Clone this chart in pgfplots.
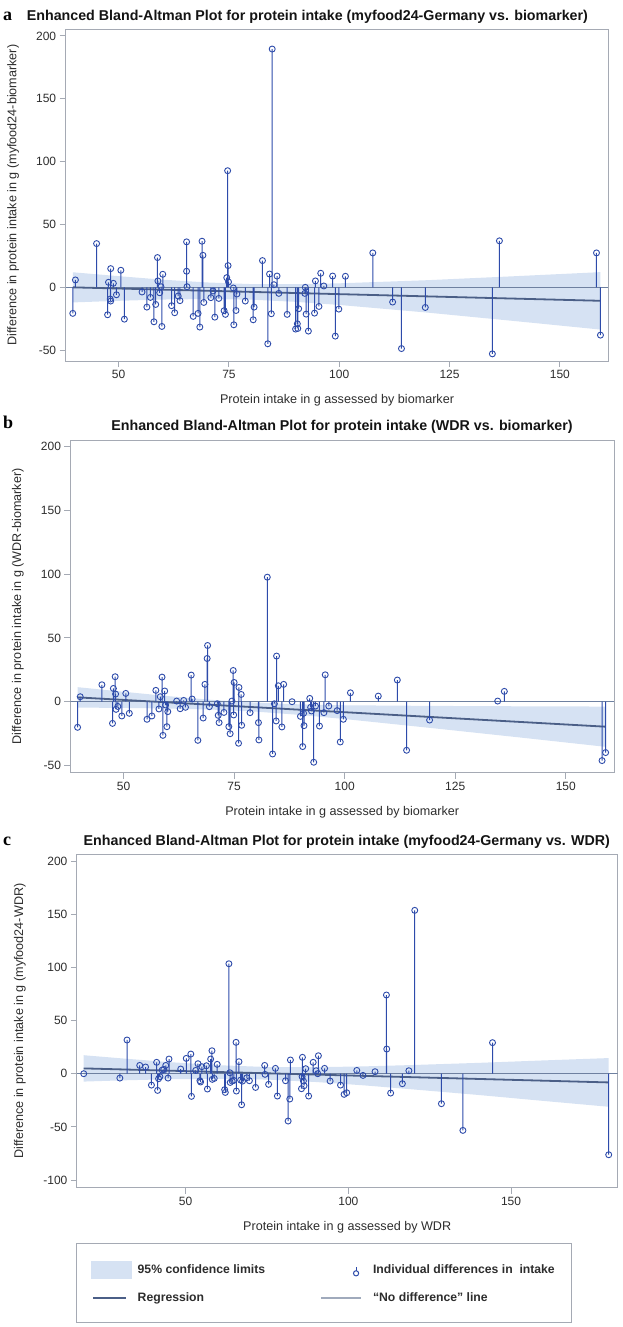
\documentclass[border=0pt]{standalone}
\usepackage{pgfplots}
\pgfplotsset{compat=1.18}
\usepackage{pgfplotstable}
\usepackage{fontspec}
\setmainfont{Liberation Sans}
\newfontfamily\serifb{Liberation Serif}
\definecolor{ptcol}{RGB}{45,75,170}
\definecolor{bandcol}{RGB}{214,226,243}
\definecolor{regcol}{RGB}{75,95,135}
\definecolor{zerocol}{RGB}{110,128,160}
\definecolor{legzero}{RGB}{160,170,188}
\definecolor{framecol}{RGB}{165,170,180}
\definecolor{labcol}{RGB}{45,45,45}
\definecolor{titlecol}{RGB}{20,20,20}

\pgfplotstableread{
x y
39.6 -20.7
40.2 5.9
45.0 34.8
47.5 -21.8
47.7 4.0
48.2 14.9
48.1 -9.3
48.2 -10.9
48.8 3.2
49.5 -5.9
50.5 13.6
51.3 -25.3
55.3 -3.7
56.4 -15.7
57.2 -8.0
58.0 -27.4
58.4 -13.6
58.8 23.7
58.9 5.1
59.3 -4.3
59.6 0.5
59.8 -31.1
60.0 10.4
62.0 -14.6
62.7 -20.2
63.5 -6.9
63.9 -10.6
65.4 36.2
65.4 12.8
65.5 0.5
66.9 -23.1
68.0 -20.7
68.4 -31.6
68.9 36.7
69.1 25.5
69.3 -12.0
70.9 -8.2
71.4 -2.9
71.8 -23.7
72.7 -8.8
73.9 -18.6
74.2 -21.5
74.5 7.7
74.7 92.8
74.8 17.3
74.9 4.3
76.0 -0.5
76.1 -29.8
76.6 -18.4
76.8 -5.3
78.7 -10.9
80.5 -25.8
80.7 -15.7
82.6 21.3
83.8 -44.9
84.2 10.6
84.6 -21.0
84.8 189.6
85.2 2.1
85.9 9.0
86.3 -4.8
88.2 -21.5
90.1 -33.2
90.5 -29.0
90.6 -32.7
90.8 -17.0
92.3 0.0
92.2 -4.8
92.5 -21.3
93.0 -34.8
94.4 -20.5
94.6 5.1
95.4 -15.2
95.8 11.2
96.5 1.1
98.5 9.0
99.1 -38.8
99.9 -17.3
101.4 8.8
107.6 27.4
112.1 -11.7
114.1 -48.7
119.5 -16.0
134.7 -52.9
136.3 37.0
158.3 27.4
159.2 -38.0
}\dataA

\pgfplotstableread{
x y
39.6 -20.1
40.2 3.9
45.1 13.3
47.5 -17.0
47.7 10.4
48.1 19.6
48.2 6.0
48.3 -6.0
48.7 -3.7
49.6 -11.2
50.5 6.5
51.3 -9.1
55.3 -13.8
56.4 -11.2
57.3 8.9
58.0 -5.7
58.3 3.9
58.7 19.3
58.9 -26.4
59.3 8.4
59.5 -2.6
59.8 -19.6
60.0 -7.8
62.0 0.5
62.8 -5.5
63.6 1.0
64.0 -4.4
65.3 20.9
65.5 2.1
66.8 -30.3
68.0 -12.8
68.4 13.6
68.9 33.9
69.0 44.1
69.4 -3.9
71.2 -1.6
71.4 -10.7
71.6 -16.4
72.7 -8.4
73.8 -19.6
74.1 -25.1
74.5 0.5
74.8 24.5
74.9 -10.4
75.0 15.1
76.0 -32.6
76.1 11.2
76.6 5.7
76.7 -18.5
78.6 -8.6
80.5 -16.4
80.6 -30.0
82.5 97.7
83.7 -41.0
84.1 -1.6
84.6 35.8
84.5 -15.1
85.0 12.5
85.8 -19.8
86.2 13.6
88.1 0.0
90.0 -11.5
90.5 -35.2
90.7 -9.1
90.8 -18.8
92.1 2.6
92.3 -4.4
92.5 -7.3
93.0 -47.5
93.4 -3.4
94.3 -19.1
95.3 -8.6
95.6 21.1
96.4 -3.4
98.3 -7.0
99.0 -31.6
99.7 -13.8
101.3 7.0
107.6 4.4
111.9 17.0
114.0 -38.1
119.2 -14.4
134.6 0.5
136.1 8.1
158.2 -46.2
159.0 -39.9
}\dataB

\pgfplotstableread{
x y
18.7 0.0
29.8 -4.1
32.0 31.7
35.9 7.8
37.7 6.3
39.5 -10.7
41.1 10.7
41.4 -15.7
41.7 -4.7
42.1 -2.8
42.8 3.4
43.3 4.1
43.9 7.8
44.6 -4.1
44.9 13.8
48.5 4.4
50.2 14.4
51.6 18.5
51.8 -21.3
53.1 3.1
53.8 9.4
54.4 -6.6
54.6 -7.8
55.0 6.6
56.4 7.5
56.7 -14.4
57.7 13.8
58.1 21.6
58.2 -5.3
58.8 -4.4
59.7 8.8
62.0 -15.0
62.2 -17.6
63.3 103.4
63.6 0.9
63.7 -8.2
64.3 -6.9
64.8 -6.3
65.5 29.5
65.6 -16.3
66.4 11.3
66.9 -6.0
67.2 -29.2
67.5 -6.9
68.8 -3.8
69.6 -6.6
71.5 -12.9
74.3 7.8
74.4 -0.6
75.5 -10.0
77.6 5.0
78.2 -21.0
80.7 -6.6
81.5 -44.5
82.0 -23.8
82.2 12.9
85.6 -14.1
85.8 -2.8
85.9 15.4
86.2 -6.9
86.4 -11.3
86.9 4.7
87.8 -21.0
89.2 10.7
90.1 2.8
90.6 0.0
90.8 16.9
92.7 5.0
94.4 -6.9
97.6 -10.7
98.7 -19.4
99.5 -17.9
102.6 3.1
104.5 -1.6
108.2 1.9
111.7 74.0
111.8 23.2
113.0 -18.2
116.6 -9.4
118.6 2.8
120.4 153.6
128.6 -28.2
135.2 -53.3
144.3 29.2
180.0 -76.2
}\dataC

\pgfplotsset{
  ba/.style={
    scale only axis, anchor=south west,
    axis line style={draw=framecol, line width=1pt},
    major tick style={draw=framecol, line width=1pt},
    tick align=outside, major tick length=6pt,
    xtick pos=lower, ytick pos=left,
    tick label style={font=\fontsize{12}{14}\selectfont, text=labcol},
    label style={font=\fontsize{12.6}{15}\selectfont, text=labcol},
    /pgf/number format/assume math mode=true,
    scaled ticks=false,
  },
  stems/.style={ybar, bar width=1pt, fill=ptcol, draw=none, forget plot},
  pts/.style={only marks, mark=o, mark size=3pt, color=ptcol, mark options={line width=0.9pt}, forget plot},
}

\begin{document}
\begin{tikzpicture}
\path[use as bounding box] (0pt,0pt) rectangle (623pt,-1327pt);

% ---------- titles and panel letters
\node[anchor=base, font=\bfseries\fontsize{14.25}{16}\selectfont, text=titlecol, inner sep=0pt] at (307.4pt,-20.7pt) {Enhanced Bland-Altman Plot for protein intake (myfood24-Germany vs. biomarker)};
\node[anchor=base west, font=\serifb\bfseries\fontsize{18}{20}\selectfont, inner sep=0pt] at (3pt,-20.7pt) {a};
\node[anchor=base, font=\bfseries\fontsize{14.25}{16}\selectfont, text=titlecol, inner sep=0pt] at (342pt,-430pt) {Enhanced Bland-Altman Plot for protein intake (WDR vs. biomarker)};
\node[anchor=base west, font=\serifb\bfseries\fontsize{18}{20}\selectfont, inner sep=0pt] at (3pt,-428pt) {b};
\node[anchor=base, font=\bfseries\fontsize{14.25}{16}\selectfont, text=titlecol, inner sep=0pt] at (346.8pt,-845pt) {Enhanced Bland-Altman Plot for protein intake (myfood24-Germany vs. WDR)};
\node[anchor=base west, font=\serifb\bfseries\fontsize{18}{20}\selectfont, inner sep=0pt] at (3pt,-845pt) {c};

% ---------- panel a
\begin{axis}[ba, at={(65.7pt,-361pt)}, width=542.7pt, height=331.7pt,
  xmin=38, xmax=161, ymin=-58.6, ymax=205.3,
  xtick={50,75,100,125,150}, ytick={-50,0,50,100,150,200},
  xlabel={Protein intake in g assessed by biomarker},
  ylabel={Difference in protein intake in g (myfood24-biomarker)},
  xlabel style={at={(axis description cs:0.5,-0.1275)}, anchor=base},
  ylabel style={at={(axis description cs:-0.0969,0.5)}, anchor=center}]
\addplot[fill=bandcol, draw=none, forget plot] coordinates {(39.6,12.0) (50,8.9) (60,6.1) (70,3.9) (80,2.6) (90,2.5) (100,3.2) (120,5.7) (140,8.9) (159.2,12.1)
 (159.2,-33.6) (140,-26.9) (120,-20.1) (100,-14.0) (90,-11.5) (80,-9.8) (70,-9.3) (60,-9.7) (50,-10.7) (39.6,-12.0)};
\addplot[zerocol, line width=1.3pt, forget plot] coordinates {(38,0) (161,0)};
\addplot[regcol, line width=1.8pt, forget plot] coordinates {(39.6,0) (159.2,-10.7)};
\addplot[stems] table {\dataA};
\addplot[pts] table {\dataA};
\end{axis}

% ---------- panel b
\begin{axis}[ba, at={(70.5pt,-772.7pt)}, width=543.5pt, height=332.7pt,
  xmin=38, xmax=160.9, ymin=-55.7, ymax=205.3,
  xtick={50,75,100,125,150}, ytick={-50,0,50,100,150,200},
  xlabel={Protein intake in g assessed by biomarker},
  ylabel={Difference in protein intake in g (WDR-biomarker)},
  xlabel style={at={(axis description cs:0.5,-0.130)}, anchor=base},
  ylabel style={at={(axis description cs:-0.0968,0.5)}, anchor=center}]
\addplot[fill=bandcol, draw=none, forget plot] coordinates {(39.6,11.4) (50,7.8) (60,4.4) (70,1.4) (80,-0.8) (90,-2.1) (100,-2.8) (120,-3.3) (140,-3.6) (159,-3.8)
 (159,-35.4) (140,-28.2) (120,-20.8) (100,-13.6) (90,-10.4) (80,-7.8) (70,-6.2) (60,-5.3) (50,-4.9) (39.6,-4.6)};
\addplot[zerocol, line width=1.3pt, forget plot] coordinates {(38,0) (160.9,0)};
\addplot[regcol, line width=1.8pt, forget plot] coordinates {(39.6,3.4) (159,-19.6)};
\addplot[stems] table {\dataB};
\addplot[pts] table {\dataB};
\end{axis}

% ---------- panel c
\begin{axis}[ba, at={(76.9pt,-1187.7pt)}, width=540.6pt, height=333.4pt,
  xmin=16.6, xmax=182.7, ymin=-107.2, ymax=206.3,
  xtick={50,100,150}, ytick={-100,-50,0,50,100,150,200},
  xlabel={Protein intake in g assessed by WDR},
  ylabel={Difference in protein intake in g (myfood24-WDR)},
  xlabel style={at={(axis description cs:0.5,-0.129)}, anchor=base},
  ylabel style={at={(axis description cs:-0.1054,0.5)}, anchor=center},
  legend columns=2, legend cell align=left,
  legend style={at={(-0.0022,-0.1659)}, anchor=north west, draw=framecol, line width=1pt,
    inner xsep=15pt, inner ysep=17pt, row sep=12.5pt,
    font=\bfseries\fontsize{12.2}{14}\selectfont, text=labcol,
    /tikz/every even column/.append style={column sep=53pt}}]
\addlegendimage{legend image code/.code={\path[draw=none] (0pt,0pt) -- (44pt,0pt); \fill[bandcol] (0pt,-8.5pt) rectangle (40pt,8.5pt);}}
\addlegendentry{95\% confidence limits}
\addlegendimage{legend image code/.code={\path[draw=none] (0pt,0pt) -- (50pt,0pt); \draw[ptcol, line width=1pt] (35pt,-3.8pt) circle (2.6pt); \draw[ptcol, line width=1pt] (35pt,-1.2pt) -- (35pt,2.2pt);}}
\addlegendentry{Individual differences in\ \ intake\hspace{31pt}}
\addlegendimage{legend image code/.code={\path[draw=none] (0pt,0pt) -- (44pt,0pt); \draw[regcol, line width=1.8pt] (1.7pt,0pt) -- (34pt,0pt);}}
\addlegendentry{Regression}
\addlegendimage{legend image code/.code={\path[draw=none] (0pt,0pt) -- (50pt,0pt); \draw[legzero, line width=1.8pt] (0pt,0pt) -- (39.5pt,0pt);}}
\addlegendentry{“No difference” line}
\addplot[fill=bandcol, draw=none, forget plot] coordinates {(18.7,17.4) (30,14.5) (45,10.9) (60,8.0) (75,6.3) (90,6.1) (105,6.9) (120,8.2) (140,10.2) (160,12.5) (180,14.7)
 (180,-31.1) (160,-25.6) (140,-20.0) (120,-14.8) (105,-11.0) (90,-7.8) (75,-5.5) (60,-4.8) (45,-5.2) (30,-6.3) (18.7,-7.4)};
\addplot[zerocol, line width=1.3pt, forget plot] coordinates {(16.6,0) (182.7,0)};
\addplot[regcol, line width=1.8pt, forget plot] coordinates {(18.7,5.0) (180,-8.2)};
\addplot[stems] table {\dataC};
\addplot[pts] table {\dataC};
\end{axis}
\end{tikzpicture}
\end{document}
